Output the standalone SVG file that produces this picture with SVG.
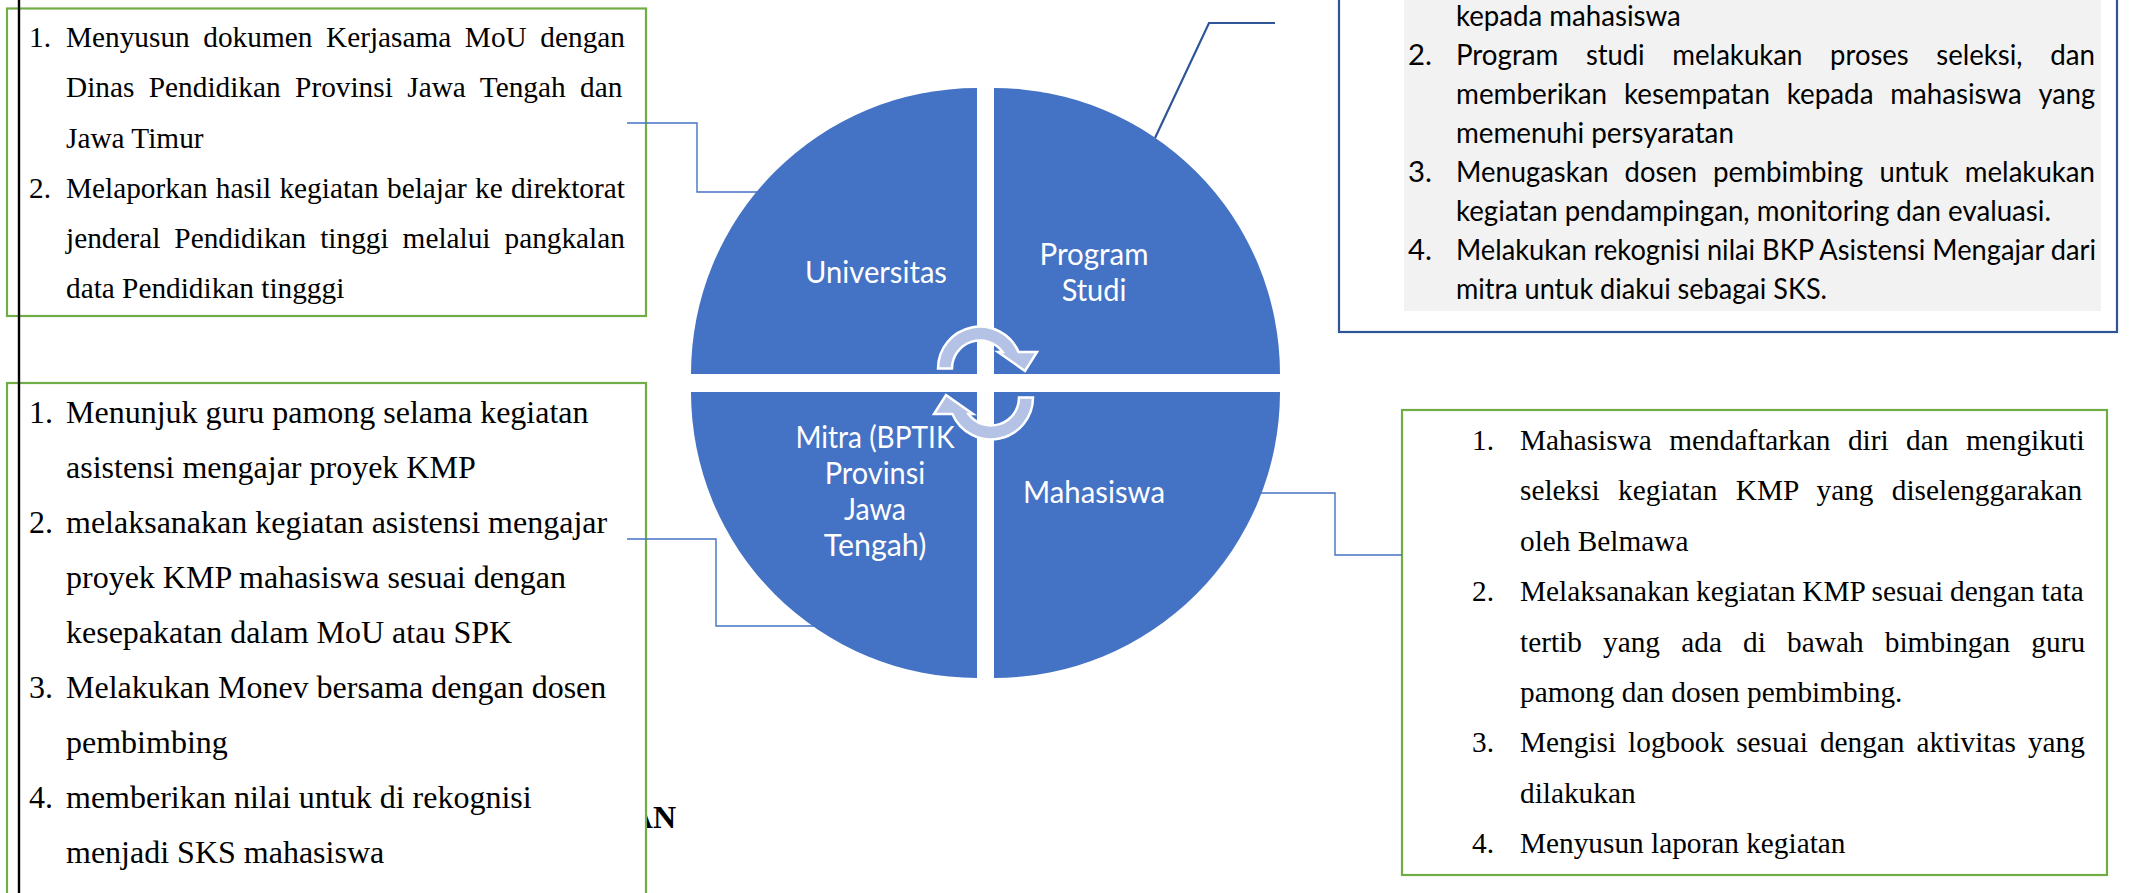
<svg xmlns="http://www.w3.org/2000/svg" width="2129" height="893" viewBox="0 0 2129 893">
<style>
.gbox{fill:#fff;stroke:#70AD47;stroke-width:2.2}
.bbox{fill:#fff;stroke:#2F5597;stroke-width:2.2}
.tnr{font-family:"Liberation Serif","Times New Roman",serif;font-size:29.3px;fill:#000}
.tnr32{font-family:"Liberation Serif","Times New Roman",serif;font-size:32px;fill:#000}
.cal{font-family:Lato,"Open Sans","Liberation Sans",sans-serif;font-size:29.3px;fill:#000}
.lbl{font-family:Lato,"Open Sans","Liberation Sans",sans-serif;font-size:31.2px;fill:#fff;text-anchor:middle}
.q{fill:#4472C4}
.arr{fill:#B4C3E5;stroke:#fff;stroke-width:2.5;stroke-linejoin:miter}
.con{fill:none;stroke:#4472C4;stroke-width:1.4}
.con2{fill:none;stroke:#2F5597;stroke-width:2.2}
</style>
<defs>
<path id="cyc" d="M938,368.5 A42,42 0 0 1 1018.6,352 L1037,352 L1025,371 L998,352 L1002.6,352 A28,28 0 0 0 952,368.5 Z"/>
</defs>
<rect width="2129" height="893" fill="#fff"/>

<text x="676" y="828" style="font-family:'Liberation Serif','Times New Roman',serif;font-size:32px;font-weight:bold;text-anchor:end">AN</text>

<g id="node-universitas-box">
<rect class="gbox" x="7" y="8.5" width="639" height="307.5"/>
<text class="tnr" x="29" y="47">1.</text>
<text class="tnr" x="66" y="47" style="word-spacing:6.3px">Menyusun dokumen Kerjasama MoU dengan</text>
<text class="tnr" x="66" y="97" style="word-spacing:7.15px">Dinas Pendidikan Provinsi Jawa Tengah dan</text>
<text class="tnr" x="66" y="147.5">Jawa Timur</text>
<text class="tnr" x="29" y="197.5">2.</text>
<text class="tnr" x="66" y="197.5" style="word-spacing:0.97px">Melaporkan hasil kegiatan belajar ke direktorat</text>
<text class="tnr" x="66" y="248" style="word-spacing:6.7px">jenderal Pendidikan tinggi melalui pangkalan</text>
<text class="tnr" x="66" y="298">data Pendidikan tingggi</text>
</g>

<g id="node-mitra-box">
<rect class="gbox" x="7" y="383" width="639" height="530"/>
<text class="tnr32" x="29" y="423">1.</text>
<text class="tnr32" x="66" y="423">Menunjuk guru pamong selama kegiatan</text>
<text class="tnr32" x="66" y="478">asistensi mengajar proyek KMP</text>
<text class="tnr32" x="29" y="533">2.</text>
<text class="tnr32" x="66" y="533">melaksanakan kegiatan asistensi mengajar</text>
<text class="tnr32" x="66" y="588">proyek KMP mahasiswa sesuai dengan</text>
<text class="tnr32" x="66" y="643">kesepakatan dalam MoU atau SPK</text>
<text class="tnr32" x="29" y="698">3.</text>
<text class="tnr32" x="66" y="698">Melakukan Monev bersama dengan dosen</text>
<text class="tnr32" x="66" y="753">pembimbing</text>
<text class="tnr32" x="29" y="808">4.</text>
<text class="tnr32" x="66" y="808">memberikan nilai untuk di rekognisi</text>
<text class="tnr32" x="66" y="863">menjadi SKS mahasiswa</text>
</g>

<g id="node-programstudi-box">
<rect class="bbox" x="1339" y="-10" width="778" height="342"/>
<rect x="1404" y="-5" width="697" height="316" fill="#F2F2F2"/>
<text class="cal" x="1456" y="26" textLength="224.8" lengthAdjust="spacingAndGlyphs">kepada mahasiswa</text>
<text class="cal" x="1408" y="65">2.</text>
<text class="cal" x="1456" y="65" textLength="102.3" lengthAdjust="spacingAndGlyphs">Program</text>
<text class="cal" x="1585.9" y="65" textLength="58.7" lengthAdjust="spacingAndGlyphs">studi</text>
<text class="cal" x="1672.3" y="65" textLength="130.2" lengthAdjust="spacingAndGlyphs">melakukan</text>
<text class="cal" x="1830.1" y="65" textLength="78.6" lengthAdjust="spacingAndGlyphs">proses</text>
<text class="cal" x="1936.3" y="65" textLength="86.2" lengthAdjust="spacingAndGlyphs">seleksi,</text>
<text class="cal" x="2050.2" y="65" textLength="44.8" lengthAdjust="spacingAndGlyphs">dan</text>
<text class="cal" x="1456" y="104" textLength="151.1" lengthAdjust="spacingAndGlyphs">memberikan</text>
<text class="cal" x="1623.9" y="104" textLength="146" lengthAdjust="spacingAndGlyphs">kesempatan</text>
<text class="cal" x="1786.7" y="104" textLength="86.8" lengthAdjust="spacingAndGlyphs">kepada</text>
<text class="cal" x="1890.3" y="104" textLength="131.5" lengthAdjust="spacingAndGlyphs">mahasiswa</text>
<text class="cal" x="2038.6" y="104" textLength="56.5" lengthAdjust="spacingAndGlyphs">yang</text>
<text class="cal" x="1456" y="143" textLength="277.9" lengthAdjust="spacingAndGlyphs">memenuhi persyaratan</text>
<text class="cal" x="1408" y="182">3.</text>
<text class="cal" x="1456" y="182" textLength="152.4" lengthAdjust="spacingAndGlyphs">Menugaskan</text>
<text class="cal" x="1624.6" y="182" textLength="72.3" lengthAdjust="spacingAndGlyphs">dosen</text>
<text class="cal" x="1713" y="182" textLength="150.2" lengthAdjust="spacingAndGlyphs">pembimbing</text>
<text class="cal" x="1879.4" y="182" textLength="69.3" lengthAdjust="spacingAndGlyphs">untuk</text>
<text class="cal" x="1964.8" y="182" textLength="130.2" lengthAdjust="spacingAndGlyphs">melakukan</text>
<text class="cal" x="1456" y="221" textLength="595" lengthAdjust="spacingAndGlyphs">kegiatan pendampingan, monitoring dan evaluasi.</text>
<text class="cal" x="1408" y="260">4.</text>
<text class="cal" x="1456" y="260" textLength="640" lengthAdjust="spacingAndGlyphs">Melakukan rekognisi nilai BKP Asistensi Mengajar dari</text>
<text class="cal" x="1456" y="299" textLength="371" lengthAdjust="spacingAndGlyphs">mitra untuk diakui sebagai SKS.</text>
</g>

<g id="node-mahasiswa-box">
<rect class="gbox" x="1402" y="410" width="705" height="465"/>
<text class="tnr" x="1472" y="450">1.</text>
<text class="tnr" x="1520" y="450" style="word-spacing:10.2px">Mahasiswa mendaftarkan diri dan mengikuti</text>
<text class="tnr" x="1520" y="500.4" style="word-spacing:11.05px">seleksi kegiatan KMP yang diselenggarakan</text>
<text class="tnr" x="1520" y="550.8">oleh Belmawa</text>
<text class="tnr" x="1472" y="601.2">2.</text>
<text class="tnr" x="1520" y="601.2" style="word-spacing:-0.43px">Melaksanakan kegiatan KMP sesuai dengan tata</text>
<text class="tnr" x="1520" y="651.6" style="word-spacing:13.9px">tertib yang ada di bawah bimbingan guru</text>
<text class="tnr" x="1520" y="702">pamong dan dosen pembimbing.</text>
<text class="tnr" x="1472" y="752.4">3.</text>
<text class="tnr" x="1520" y="752.4" style="word-spacing:4.75px">Mengisi logbook sesuai dengan aktivitas yang</text>
<text class="tnr" x="1520" y="802.8">dilakukan</text>
<text class="tnr" x="1472" y="853.2">4.</text>
<text class="tnr" x="1520" y="853.2">Menyusun laporan kegiatan</text>
</g>

<g id="connectors">
<path class="con" d="M627,123 H697 V192 H770"/>
<path class="con" d="M627,539 H716 V626 H815"/>
<path class="con" d="M1250,493 H1335 V555 H1402"/>
<path class="con2" d="M1275,23 H1209 L1155,138"/>
</g>

<g id="node-universitas">
<path class="q" d="M977,374 H691 A286,286 0 0 1 977,88 Z"/>
<text class="lbl" x="876" y="283" textLength="142" lengthAdjust="spacingAndGlyphs">Universitas</text>
</g>
<g id="node-programstudi">
<path class="q" d="M994,374 V88 A286,286 0 0 1 1280,374 Z"/>
<text class="lbl" x="1094" y="265" textLength="109" lengthAdjust="spacingAndGlyphs">Program</text>
<text class="lbl" x="1094" y="301" textLength="64.7" lengthAdjust="spacingAndGlyphs">Studi</text>
</g>
<g id="node-mahasiswa">
<path class="q" d="M994,392 H1280 A286,286 0 0 1 994,678 Z"/>
<text class="lbl" x="1094" y="503" textLength="142" lengthAdjust="spacingAndGlyphs">Mahasiswa</text>
</g>
<g id="node-mitra">
<path class="q" d="M977,392 V678 A286,286 0 0 1 691,392 Z"/>
</g>

<g id="cycle-arrows">
<use href="#cyc" class="arr"/>
<use href="#cyc" class="arr" transform="rotate(180 985.5 383)"/>
</g>

<g id="node-mitra-label">
<text class="lbl" x="875" y="448" textLength="159" lengthAdjust="spacingAndGlyphs">Mitra (BPTIK</text>
<text class="lbl" x="875" y="484" textLength="100.4" lengthAdjust="spacingAndGlyphs">Provinsi</text>
<text class="lbl" x="875" y="520" textLength="62" lengthAdjust="spacingAndGlyphs">Jawa</text>
<text class="lbl" x="875" y="556" textLength="102.6" lengthAdjust="spacingAndGlyphs">Tengah)</text>
</g>

<line x1="19" y1="0" x2="19" y2="893" stroke="#000" stroke-width="2.4"/>
</svg>
